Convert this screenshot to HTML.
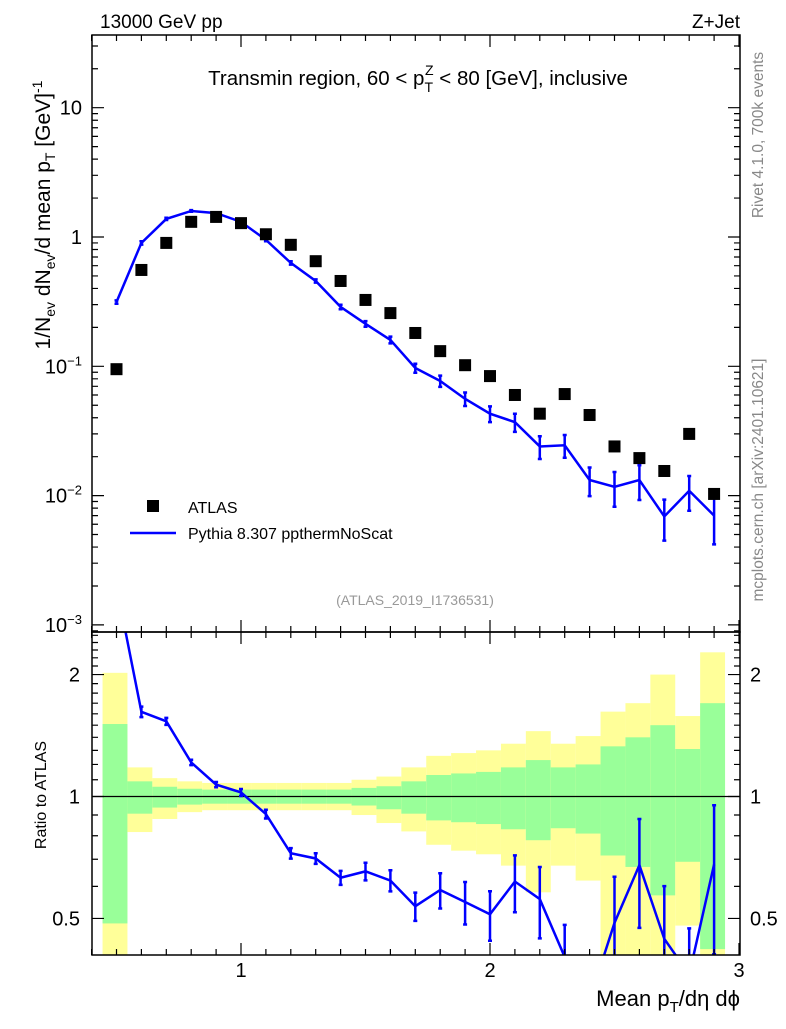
<!DOCTYPE html>
<html><head><meta charset="utf-8"><style>
body{margin:0;background:#fff}
svg text{font-family:"Liberation Sans",sans-serif}
</style></head><body>
<svg id="c" width="786" height="1024" xmlns="http://www.w3.org/2000/svg">
<g id="bands"></g>
<g id="marks"></g>
<g id="axes"></g>
<text x="100" y="28" font-size="19">13000 GeV pp</text>
<text x="740" y="28" font-size="19" text-anchor="end">Z+Jet</text>
<text x="418" y="85" font-size="20.5" text-anchor="middle">Transmin region, 60 &lt; p<tspan font-size="14" dy="7">T</tspan><tspan font-size="14" dx="-8" dy="-17">Z</tspan><tspan dy="10"> &lt; 80 [GeV], inclusive</tspan></text>
<rect x="147" y="500" width="12" height="12" fill="#000"/>
<text x="188" y="513" font-size="16">ATLAS</text>
<line x1="130" y1="533" x2="176" y2="533" stroke="#0000ff" stroke-width="2.5"/>
<text x="188" y="539" font-size="16">Pythia 8.307 ppthermNoScat</text>
<text x="415" y="605" font-size="14" fill="#999" text-anchor="middle">(ATLAS_2019_I1736531)</text>
<text transform="translate(50,215) rotate(-90)" font-size="21" text-anchor="middle">1/N<tspan font-size="14" dy="5">ev</tspan><tspan dy="-5"> dN</tspan><tspan font-size="14" dy="5">ev</tspan><tspan dy="-5">/d mean p</tspan><tspan font-size="14" dy="5">T</tspan><tspan dy="-5"> [GeV]</tspan><tspan font-size="14" dy="-8">-1</tspan></text>
<text transform="translate(46,795) rotate(-90)" font-size="16" text-anchor="middle">Ratio to ATLAS</text>
<text transform="translate(763,135) rotate(-90)" font-size="15.5" fill="#888" text-anchor="middle">Rivet 4.1.0,  700k events</text>
<text transform="translate(763,480) rotate(-90)" font-size="15.5" fill="#888" text-anchor="middle">mcplots.cern.ch [arXiv:2401.10621]</text>
<text x="740" y="1006" font-size="22" text-anchor="end">Mean p<tspan font-size="15" dy="6">T</tspan><tspan dy="-6">/dη dϕ</tspan></text>
</svg>
<script>
const centers=[0.5,0.6,0.7,0.8,0.9,1.0,1.1,1.2,1.3,1.4,1.5,1.6,1.7,1.8,1.9,2.0,2.1,2.2,2.3,2.4,2.5,2.6,2.7,2.8,2.9];
const atlas=[0.095,0.556,0.90,1.31,1.43,1.28,1.05,0.87,0.65,0.457,0.326,0.258,0.181,0.131,0.102,0.084,0.060,0.043,0.061,0.042,0.024,0.0195,0.0155,0.030,0.0103];
const pythia=[0.314,0.90,1.38,1.59,1.53,1.31,0.95,0.63,0.457,0.288,0.213,0.16,0.097,0.077,0.056,0.043,0.037,0.024,0.0245,0.0132,0.0117,0.0132,0.0069,0.0109,0.007];
const pythiaErr=[0.03,0.03,0.02,0.015,0.015,0.02,0.025,0.03,0.03,0.04,0.05,0.06,0.08,0.1,0.12,0.14,0.16,0.2,0.2,0.25,0.3,0.3,0.35,0.3,0.4];
const yelHi=[2.02,1.18,1.11,1.09,1.08,1.08,1.08,1.08,1.08,1.08,1.10,1.12,1.18,1.26,1.28,1.30,1.35,1.45,1.35,1.41,1.62,1.70,2.0,1.58,2.27];
const grnHi=[1.51,1.09,1.057,1.045,1.04,1.04,1.04,1.04,1.04,1.04,1.05,1.06,1.09,1.13,1.14,1.15,1.18,1.23,1.18,1.20,1.33,1.40,1.50,1.31,1.7];
const grnLo=[0.486,0.907,0.939,0.955,0.96,0.96,0.96,0.96,0.96,0.96,0.95,0.93,0.907,0.873,0.864,0.855,0.83,0.78,0.835,0.81,0.715,0.67,0.57,0.69,0.42];
const yelLo=[0.3,0.817,0.88,0.915,0.925,0.925,0.925,0.925,0.925,0.925,0.9,0.86,0.82,0.76,0.735,0.72,0.675,0.58,0.675,0.62,0.3,0.3,0.3,0.48,0.3];
const xTicks=[1,2,3];
const mainTicks=[10,1,0.1,0.01,0.001];
const mainTickLabels=["10","1","10^-1","10^-2","10^-3"];
const ratioTicks=[2,1,0.5];
const ratioTickLabels=["2","1","0.5"];

const NS="http://www.w3.org/2000/svg";
const L=92,R=740,T=35,M=632,B=955;
const X=v=>241+249*(v-1);
const Ym=v=>237-129.3*Math.log10(v);
const Yr=v=>796.5-405*Math.log10(v);
function mk(p,tag,a){const e=document.createElementNS(NS,tag);for(const k in a)e.setAttribute(k,a[k]);p.appendChild(e);return e;}
const bands=document.getElementById('bands'),marks=document.getElementById('marks'),axes=document.getElementById('axes');
const hw=0.05;
const clipR=v=>Math.min(B,Math.max(M,v));
centers.forEach((c,i)=>{
  const x1=X(c-hw)-1.5,x2=X(c+hw)-1.5;
  let r=mk(bands,'rect',{x:x1,y:clipR(Yr(yelHi[i])),width:x2-x1,height:clipR(Yr(yelLo[i]))-clipR(Yr(yelHi[i])),fill:'#ffff99'});
  
  
  let g=mk(bands,'rect',{x:x1,y:clipR(Yr(grnHi[i])),width:x2-x1,height:clipR(Yr(grnLo[i]))-clipR(Yr(grnHi[i])),fill:'#99ff99'});
  
  
});
const defs=mk(marks,'defs',{});
const cp=mk(defs,'clipPath',{id:'cr'});mk(cp,'rect',{x:L,y:M,width:R-L,height:B-M});
const cm=mk(defs,'clipPath',{id:'cm'});mk(cm,'rect',{x:L,y:T,width:R-L,height:M-T});
mk(marks,'line',{x1:L,x2:R,y1:Yr(1),y2:Yr(1),stroke:'#000','stroke-width':1.2});
const gm=mk(marks,'g',{'clip-path':'url(#cm)'});
let pts=centers.map((c,i)=>X(c)+','+Ym(pythia[i])).join(' ');
let pl=mk(gm,'polyline',{points:pts,fill:'none',stroke:'#0000ff','stroke-width':2.5});


centers.forEach((c,i)=>{
  const x=X(c),y1=Ym(pythia[i]*(1+pythiaErr[i])),y2=Ym(pythia[i]*(1-pythiaErr[i]));
  let e=mk(gm,'path',{d:`M${x},${y1}V${y2}M${x-2},${y1}h4M${x-2},${y2}h4`,stroke:'#0000ff','stroke-width':2.5,fill:'none'});
  
  
  let s=mk(gm,'rect',{x:x-6,y:Ym(atlas[i])-6,width:12,height:12,fill:'#000'});
  
  
});
const gr=mk(marks,'g',{'clip-path':'url(#cr)'});
const ratio=pythia.map((p,i)=>p/atlas[i]);
pts=centers.map((c,i)=>X(c)+','+Yr(ratio[i])).join(' ');
let rl=mk(gr,'polyline',{points:pts,fill:'none',stroke:'#0000ff','stroke-width':2.5});


centers.forEach((c,i)=>{
  if(i===0)return;
  const x=X(c),y1=Yr(ratio[i]*(1+pythiaErr[i])),y2=Yr(ratio[i]*(1-pythiaErr[i]));
  let e=mk(gr,'path',{d:`M${x},${y1}V${y2}M${x-2},${y1}h4M${x-2},${y2}h4`,stroke:'#0000ff','stroke-width':2.5,fill:'none'});
  
  
});
mk(axes,'rect',{x:L,y:T,width:R-L,height:M-T,fill:'none',stroke:'#000','stroke-width':1.5});
mk(axes,'rect',{x:L,y:M,width:R-L,height:B-M,fill:'none',stroke:'#000','stroke-width':1.5});
let d='';
for(let k=4;k<=30;k++){const v=k/10,x=X(v),len=(k%10===0)?12:6;
  d+=`M${x},${M}v${-len}M${x},${T}v${len}M${x},${M}v${len}M${x},${B}v${-len}`;}
for(let e=-4;e<=1;e++)for(let m=1;m<10;m++){const v=m*Math.pow(10,e);const y=Ym(v);if(y<T||y>M)continue;const len=m===1?12:6;d+=`M${L},${y}h${len}M${R},${y}h${-len}`;}
for(let k=4;k<=25;k++){const v=k/10;const y=Yr(v);if(y<M||y>B)continue;const len=(v===1||v===2||v===0.5)?12:6;d+=`M${L},${y}h${len}M${R},${y}h${-len}`;}
mk(axes,'path',{d:d,stroke:'#000','stroke-width':1.2,fill:'none'});
xTicks.forEach(v=>{let t=mk(axes,'text',{x:X(v),y:977,'font-size':20,'text-anchor':'middle'});t.textContent=String(v);
  
  });
mainTicks.forEach((v,i)=>{const lab=mainTickLabels[i];let t=mk(axes,'text',{x:82,y:Ym(v)+7,'font-size':20,'text-anchor':'end'});
  if(lab.includes('^')){const [b,ex]=lab.split('^');t.textContent=b;const ts=mk(t,'tspan',{'font-size':13,dy:-8});ts.textContent=ex.replace('-','−');}
  else t.textContent=lab;
  
  });
ratioTicks.forEach((v,i)=>{let t=mk(axes,'text',{x:80,y:Yr(v)+7,'font-size':20,'text-anchor':'end'});t.textContent=ratioTickLabels[i];
  
  
  let t2=mk(axes,'text',{x:750,y:Yr(v)+7,'font-size':20});t2.textContent=ratioTickLabels[i];
  
  });
</script>
</body></html>
